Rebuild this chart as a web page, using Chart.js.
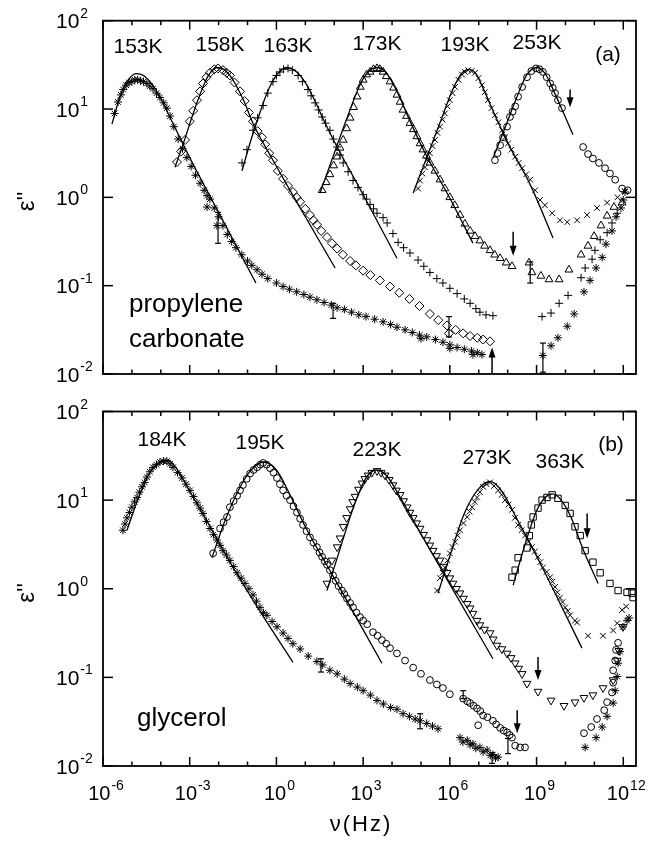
<!DOCTYPE html>
<html>
<head>
<meta charset="utf-8">
<script src="https://cdn.jsdelivr.net/npm/chart.js@4/dist/chart.umd.min.js"></script>
<style>
  body { margin: 0; background: #fff; }
  #wrap { position: relative; width: 669px; height: 841px; }
  canvas { position: absolute; left: 0; }
</style>
</head>
<body>
<div id="wrap">
  <canvas id="panelA" width="669" height="390" style="top:0"></canvas>
  <canvas id="panelB" width="669" height="451" style="top:390px"></canvas>
</div>
<script>
// all points are [log10(nu / Hz), log10(eps'')]
const decadesX = [-6,-5,-4,-3,-2,-1,0,1,2,3,4,5,6,7,8,9,10,11,12];
const labeledX = [-6,-3,0,3,6,9,12];
const decadesY = [-2,-1,0,1,2];

// ---- (a) propylene carbonate ----
const pc153 = [[-5.6,0.95],[-5.48,1.08],[-5.38,1.16],[-5.3,1.22],[-5.2,1.27],[-5.1,1.3],[-5.0,1.31],[-4.9,1.33],[-4.8,1.33],[-4.7,1.32],[-4.6,1.31],[-4.48,1.29],[-4.38,1.26],[-4.27,1.23],[-4.15,1.18],[-4.03,1.13],[-3.9,1.07],[-3.79,1.01],[-3.68,0.92],[-3.55,0.8],[-3.4,0.66],[-3.25,0.55],[-3.1,0.45],[-2.95,0.35],[-2.8,0.25],[-2.64,0.16],[-2.5,0.08],[-2.4,0.02],[-2.3,-0.02],[-2.15,-0.12],[-2.0,-0.22],[-1.85,-0.32],[-1.7,-0.42],[-1.55,-0.5],[-1.4,-0.57],[-1.2,-0.65],[-1.0,-0.72],[-0.85,-0.77],[-0.67,-0.82],[-0.5,-0.87],[-0.3,-0.92],[0.0,-0.97],[0.23,-1.01],[0.45,-1.04],[0.7,-1.07],[0.95,-1.1],[1.16,-1.13],[1.4,-1.16],[1.65,-1.19],[1.9,-1.22],[2.1,-1.25],[2.35,-1.27],[2.6,-1.3],[2.85,-1.33],[3.1,-1.35],[3.4,-1.38],[3.69,-1.41],[3.95,-1.44],[4.17,-1.47],[4.45,-1.5],[4.7,-1.53],[4.95,-1.56],[5.0,-1.6],[5.2,-1.58],[5.5,-1.61],[5.76,-1.64],[6.0,-1.67],[6.0,-1.71],[6.25,-1.7],[6.5,-1.72],[6.75,-1.74],[6.8,-1.78],[6.95,-1.76],[7.11,-1.78],[-2.4,-0.11],[-2.06,-0.32],
  [9.22,-1.79],[9.5,-1.68],[9.74,-1.59],[10.06,-1.46],[10.3,-1.32],[10.64,-1.07],[10.85,-0.94],[11.06,-0.8],[11.27,-0.68],[11.4,-0.53],[11.61,-0.38],[11.75,-0.22],[11.92,-0.12],[12.0,-0.03],[12.06,0.06]];
const pc153Fit = [[-5.69,0.83],[-5.4,1.15],[-5.1,1.34],[-4.85,1.4],[-4.6,1.38],[-4.3,1.28],[-4.0,1.12],[-3.6,0.85],[-3.0,0.45],[-2.0,-0.17],[-0.71,-0.97]];

const pc158 = [[-3.44,0.4],[-3.3,0.52],[-3.16,0.65],[-3.0,0.86],[-2.88,0.98],[-2.75,1.1],[-2.64,1.2],[-2.54,1.29],[-2.42,1.36],[-2.3,1.41],[-2.15,1.45],[-2.02,1.46],[-1.85,1.44],[-1.72,1.41],[-1.61,1.38],[-1.45,1.3],[-1.26,1.2],[-1.1,1.09],[-0.95,0.96],[-0.81,0.86],[-0.65,0.75],[-0.5,0.68],[-0.39,0.6],[-0.25,0.5],[-0.12,0.42],[0.05,0.3],[0.23,0.21],[0.4,0.13],[0.57,0.06],[0.7,0.0],[0.82,-0.05],[1.0,-0.13],[1.16,-0.2],[1.28,-0.26],[1.4,-0.31],[1.55,-0.38],[1.75,-0.45],[1.92,-0.52],[2.1,-0.58],[2.3,-0.65],[2.55,-0.72],[2.75,-0.77],[3.0,-0.83],[3.25,-0.88],[3.58,-0.94],[3.93,-1.01],[4.25,-1.08],[4.6,-1.15],[4.95,-1.23],[5.31,-1.32],[5.6,-1.39],[5.9,-1.45],[5.97,-1.54],[6.2,-1.5],[6.46,-1.54],[6.7,-1.57],[6.95,-1.59],[7.15,-1.61],[7.39,-1.63]];
const pc158Fit = [[-3.51,0.34],[-3.2,0.63],[-2.9,0.93],[-2.6,1.2],[-2.35,1.38],[-2.05,1.47],[-1.75,1.43],[-1.45,1.3],[-1.1,1.07],[-0.8,0.83],[-0.12,0.42],[1.0,-0.22],[2.03,-0.8]];

const pc163 = [[-1.19,0.39],[-1.02,0.54],[-0.81,0.76],[-0.65,0.9],[-0.46,1.04],[-0.3,1.18],[-0.12,1.31],[0.0,1.38],[0.12,1.42],[0.25,1.45],[0.4,1.46],[0.55,1.44],[0.75,1.38],[0.9,1.31],[1.09,1.22],[1.2,1.15],[1.34,1.07],[1.46,0.99],[1.58,0.91],[1.7,0.84],[1.85,0.76],[1.97,0.66],[2.1,0.57],[2.2,0.48],[2.31,0.39],[2.48,0.29],[2.65,0.19],[2.82,0.11],[3.0,0.03],[3.12,-0.02],[3.24,-0.08],[3.36,-0.13],[3.48,-0.18],[3.69,-0.23],[3.83,-0.29],[4.03,-0.41],[4.21,-0.51],[4.4,-0.57],[4.62,-0.63],[4.9,-0.71],[5.1,-0.78],[5.31,-0.85],[5.55,-0.92],[5.76,-0.97],[6.0,-1.03],[6.25,-1.09],[6.5,-1.15],[6.7,-1.2],[6.9,-1.26],[7.04,-1.3],[7.25,-1.33],[7.49,-1.34],
  [9.19,-1.35],[9.5,-1.31],[9.78,-1.2],[10.09,-1.11],[10.54,-0.91],[10.68,-0.8],[10.92,-0.7],[11.02,-0.6],[11.2,-0.48],[11.44,-0.4],[11.61,-0.29],[11.79,-0.18]];
const pc163Fit = [[-1.19,0.3],[-0.9,0.63],[-0.6,0.93],[-0.3,1.2],[0.0,1.38],[0.35,1.47],[0.7,1.42],[1.0,1.3],[1.35,1.08],[1.7,0.83],[2.1,0.57],[3.0,0.03],[4.17,-0.69]];

const pc173 = [[1.58,0.08],[1.72,0.17],[1.85,0.26],[1.98,0.36],[2.1,0.46],[2.2,0.56],[2.31,0.65],[2.43,0.78],[2.55,0.9],[2.67,1.02],[2.79,1.14],[2.9,1.25],[3.0,1.33],[3.12,1.39],[3.24,1.42],[3.36,1.45],[3.48,1.46],[3.58,1.45],[3.69,1.42],[3.8,1.37],[3.93,1.31],[4.05,1.24],[4.17,1.16],[4.28,1.08],[4.38,0.99],[4.5,0.92],[4.62,0.84],[4.74,0.77],[4.86,0.69],[4.97,0.61],[5.07,0.54],[5.19,0.47],[5.31,0.39],[5.48,0.3],[5.66,0.2],[5.83,0.1],[6.0,0.0],[6.17,-0.09],[6.35,-0.2],[6.52,-0.3],[6.7,-0.38],[6.87,-0.44],[7.04,-0.49],[7.2,-0.55],[7.39,-0.6],[7.55,-0.65],[7.74,-0.69],[7.95,-0.74],[8.15,-0.78],
  [8.74,-0.74],[8.84,-0.85],[9.15,-0.89],[9.43,-0.93],[9.78,-0.93],[10.12,-0.82],[10.54,-0.65],[10.78,-0.55],[10.99,-0.44],[11.23,-0.32],[11.44,-0.21],[11.68,-0.11],[11.96,-0.06]];
const pc173Fit = [[1.51,0.05],[2.0,0.5],[2.5,0.95],[2.9,1.28],[3.2,1.43],[3.5,1.47],[3.8,1.41],[4.2,1.18],[4.6,0.88],[5.1,0.53],[6.0,-0.01],[6.8,-0.52]];

const pc193 = [[4.9,0.1],[4.97,0.19],[5.05,0.27],[5.14,0.34],[5.22,0.42],[5.31,0.5],[5.4,0.58],[5.49,0.65],[5.57,0.73],[5.66,0.8],[5.75,0.88],[5.83,0.95],[5.92,1.03],[6.0,1.1],[6.09,1.18],[6.18,1.25],[6.3,1.33],[6.42,1.39],[6.52,1.42],[6.63,1.44],[6.75,1.43],[6.87,1.41],[6.99,1.35],[7.11,1.27],[7.21,1.19],[7.32,1.1],[7.44,1.01],[7.56,0.93],[7.68,0.85],[7.81,0.76],[7.91,0.68],[8.01,0.61],[8.13,0.54],[8.26,0.46],[8.38,0.39],[8.5,0.33],[8.64,0.26],[8.78,0.2],[8.95,0.08],[9.12,-0.03],[9.29,-0.09],[9.54,-0.18],[9.81,-0.26],[10.06,-0.28],[10.4,-0.26],[10.75,-0.2],[11.09,-0.12],[11.44,-0.06],[11.8,0.0],[12.05,0.07]];
const pc193Fit = [[4.73,0.05],[5.2,0.45],[5.7,0.88],[6.1,1.22],[6.4,1.4],[6.65,1.45],[6.9,1.4],[7.2,1.2],[7.6,0.9],[8.0,0.62],[8.8,0.13],[9.57,-0.46]];

const pc253 = [[7.56,0.42],[7.65,0.5],[7.74,0.59],[7.84,0.68],[7.98,0.8],[8.08,0.91],[8.17,0.97],[8.26,1.03],[8.36,1.14],[8.5,1.25],[8.67,1.36],[8.82,1.43],[8.98,1.46],[9.1,1.45],[9.22,1.42],[9.35,1.36],[9.47,1.29],[9.56,1.24],[9.64,1.18],[9.74,1.1],[9.88,1.01],[10.61,0.57],[10.78,0.49],[10.95,0.44],[11.16,0.39],[11.37,0.33],[11.54,0.27],[11.72,0.2],[11.96,0.1],[12.15,0.08]];
const pc253Fit = [[7.5,0.45],[7.9,0.78],[8.3,1.12],[8.65,1.38],[9.0,1.47],[9.3,1.4],[9.6,1.2],[9.9,0.98],[10.26,0.71]];

// ---- (b) glycerol ----
const gl184 = [[-5.31,0.66],[-5.24,0.73],[-5.17,0.8],[-5.08,0.86],[-5.0,0.92],[-4.91,0.98],[-4.82,1.03],[-4.74,1.09],[-4.65,1.15],[-4.56,1.2],[-4.48,1.26],[-4.38,1.32],[-4.27,1.37],[-4.15,1.4],[-4.03,1.43],[-3.91,1.44],[-3.79,1.44],[-3.68,1.41],[-3.58,1.37],[-3.42,1.31],[-3.27,1.25],[-3.13,1.18],[-2.99,1.11],[-2.87,1.04],[-2.75,0.97],[-2.64,0.91],[-2.54,0.85],[-2.42,0.76],[-2.3,0.68],[-2.18,0.61],[-2.06,0.55],[-1.95,0.49],[-1.85,0.43],[-1.73,0.38],[-1.61,0.32],[-1.48,0.25],[-1.36,0.18],[-1.22,0.12],[-1.09,0.06],[-0.95,0.0],[-0.81,-0.07],[-0.69,-0.14],[-0.57,-0.21],[-0.45,-0.27],[-0.33,-0.3],[-0.15,-0.37],[0.02,-0.43],[0.23,-0.5],[0.4,-0.56],[0.57,-0.62],[0.82,-0.68],[1.1,-0.76],[1.4,-0.82],[1.6,-0.86],[1.85,-0.92],[2.1,-0.96],[2.35,-1.02],[2.55,-1.07],[2.8,-1.11],[3.0,-1.15],[3.25,-1.2],[3.48,-1.26],[3.7,-1.3],[3.95,-1.34],[4.17,-1.36],[4.38,-1.41],[4.6,-1.44],[4.8,-1.47],[4.97,-1.49],[5.2,-1.52],[5.4,-1.55],[5.59,-1.58],
  [6.35,-1.68],[6.45,-1.73],[6.6,-1.71],[6.7,-1.76],[6.8,-1.75],[6.9,-1.8],[7.04,-1.79],[7.15,-1.84],[7.29,-1.82],[7.4,-1.88],[7.49,-1.87],[7.58,-1.91],[7.67,-1.9],
  [10.68,-1.79],[11.06,-1.68],[11.27,-1.56],[11.44,-1.44],[11.65,-1.29],[11.72,-1.15],[11.79,-0.99],[11.82,-0.84],[11.89,-0.71],[11.99,-0.43],[12.13,-0.36],[12.2,-0.33]];
const gl184Fit = [[-5.17,0.66],[-4.8,1.0],[-4.4,1.3],[-4.0,1.43],[-3.75,1.45],[-3.4,1.33],[-3.0,1.1],[-2.5,0.82],[-1.5,0.24],[-0.5,-0.29],[0.57,-0.83]];

const gl195 = [[-2.19,0.4],[-1.95,0.68],[-1.83,0.75],[-1.71,0.81],[-1.61,0.92],[-1.48,0.99],[-1.36,1.05],[-1.26,1.11],[-1.16,1.17],[-1.03,1.24],[-0.91,1.3],[-0.79,1.34],[-0.67,1.37],[-0.56,1.4],[-0.46,1.42],[-0.34,1.4],[-0.22,1.36],[-0.1,1.31],[0.02,1.25],[0.12,1.18],[0.23,1.11],[0.35,1.05],[0.47,1.0],[0.59,0.93],[0.71,0.86],[0.82,0.79],[0.92,0.72],[1.04,0.65],[1.16,0.58],[1.28,0.52],[1.4,0.47],[1.49,0.41],[1.58,0.36],[1.67,0.31],[1.75,0.27],[1.85,0.21],[1.96,0.15],[2.05,0.09],[2.15,0.03],[2.27,-0.02],[2.35,-0.06],[2.44,-0.11],[2.55,-0.16],[2.65,-0.21],[2.77,-0.27],[2.89,-0.32],[3.0,-0.36],[3.14,-0.4],[3.34,-0.49],[3.5,-0.53],[3.65,-0.58],[3.8,-0.62],[3.93,-0.67],[4.17,-0.73],[4.45,-0.81],[4.73,-0.89],[5.0,-0.96],[5.31,-1.03],[5.55,-1.08],[5.76,-1.12],[6.0,-1.19],
  [6.46,-1.24],[6.6,-1.27],[6.7,-1.29],[6.82,-1.32],[6.94,-1.35],[6.98,-1.54],[7.05,-1.38],[7.15,-1.43],[7.3,-1.45],[7.49,-1.49],[7.6,-1.53],[7.74,-1.57],[7.86,-1.6],[7.98,-1.62],[8.07,-1.65],[8.15,-1.68],[8.26,-1.77],[8.43,-1.79],[8.6,-1.79],
  [10.64,-1.63],[10.89,-1.56],[11.09,-1.47],[11.34,-1.37],[11.44,-1.28],[11.61,-1.17],[11.65,-1.06],[11.65,-0.92],[11.72,-0.81],[11.75,-0.69],[11.82,-0.61]];
const gl195Fit = [[-2.23,0.35],[-1.8,0.75],[-1.3,1.12],[-0.9,1.33],[-0.45,1.43],[0.0,1.34],[0.5,1.04],[1.0,0.7],[2.0,0.12],[3.65,-0.84]];

const gl223 = [[1.75,0.06],[1.92,0.32],[2.1,0.47],[2.2,0.57],[2.31,0.7],[2.43,0.8],[2.55,0.9],[2.64,0.98],[2.72,1.04],[2.84,1.12],[2.96,1.19],[3.06,1.24],[3.17,1.28],[3.3,1.31],[3.48,1.33],[3.62,1.31],[3.76,1.28],[3.9,1.23],[4.03,1.17],[4.15,1.11],[4.28,1.06],[4.4,0.99],[4.52,0.92],[4.62,0.86],[4.73,0.8],[4.85,0.74],[4.97,0.68],[5.09,0.61],[5.21,0.55],[5.31,0.49],[5.42,0.43],[5.54,0.37],[5.66,0.32],[5.78,0.25],[5.9,0.18],[6.0,0.12],[6.11,0.06],[6.23,0.0],[6.35,-0.05],[6.47,-0.11],[6.6,-0.17],[6.7,-0.22],[6.8,-0.28],[6.94,-0.36],[7.04,-0.41],[7.2,-0.46],[7.39,-0.5],[7.5,-0.57],[7.63,-0.64],[7.8,-0.68],[7.98,-0.73],[8.12,-0.78],[8.26,-0.84],[8.38,-0.9],[8.5,-0.96],[8.67,-1.07],
  [9.05,-1.16],[9.5,-1.26],[9.95,-1.32],[10.33,-1.28],[10.64,-1.23],[10.95,-1.2],[11.3,-1.12],[11.65,-1.03],[11.79,-0.81],[11.85,-0.7],[11.99,-0.43]];
const gl223Fit = [[1.75,-0.02],[2.2,0.45],[2.7,0.95],[3.1,1.25],[3.45,1.34],[3.8,1.28],[4.3,1.02],[5.0,0.62],[6.0,0.05],[7.49,-0.79]];

const gl273 = [[5.56,-0.02],[5.66,0.12],[5.75,0.18],[5.83,0.24],[5.92,0.32],[6.0,0.4],[6.09,0.47],[6.18,0.53],[6.27,0.6],[6.35,0.66],[6.47,0.74],[6.6,0.81],[6.68,0.87],[6.77,0.92],[6.86,0.98],[6.94,1.03],[7.04,1.09],[7.15,1.15],[7.27,1.18],[7.39,1.2],[7.53,1.16],[7.67,1.11],[7.79,1.06],[7.91,1.0],[8.03,0.95],[8.15,0.89],[8.25,0.8],[8.36,0.72],[8.48,0.66],[8.6,0.6],[8.72,0.53],[8.84,0.47],[8.94,0.42],[9.05,0.36],[9.13,0.3],[9.22,0.24],[9.35,0.19],[9.47,0.13],[9.55,0.08],[9.64,0.02],[9.72,-0.04],[9.81,-0.1],[9.9,-0.15],[9.99,-0.21],[10.08,-0.25],[10.16,-0.3],[10.33,-0.36],[10.4,-0.38],[10.78,-0.53],[11.3,-0.53],[11.65,-0.47],[11.79,-0.39],[11.96,-0.24],[12.1,-0.2]];
const gl273Fit = [[5.59,-0.05],[6.0,0.37],[6.5,0.85],[7.0,1.13],[7.4,1.21],[7.8,1.1],[8.3,0.8],[9.0,0.37],[10.57,-0.67]];

const gl363 = [[8.15,0.13],[8.26,0.21],[8.36,0.35],[8.67,0.46],[8.75,0.6],[8.82,0.72],[8.88,0.81],[9.05,0.91],[9.19,1.0],[9.36,1.03],[9.54,1.06],[9.74,1.02],[9.99,0.94],[10.16,0.85],[10.33,0.7],[10.51,0.6],[10.68,0.43],[10.95,0.3],[11.2,0.18],[11.54,0.06],[11.82,-0.02],[12.13,-0.04],[12.3,-0.05],[12.34,-0.1]];
const gl363Fit = [[8.19,0.04],[8.6,0.5],[9.0,0.88],[9.3,1.03],[9.55,1.07],[9.85,1.0],[10.2,0.8],[10.6,0.45],[11.13,0.06]];

// error bars [log nu, log low, log high], arrows [log nu, log from, log to]
const errBarsA = [[-2.02,-0.52,-0.17],[1.96,-1.37,-1.2],[5.97,-1.58,-1.35],[8.78,-0.97,-0.73],[9.22,-1.98,-1.65]];
const arrowsA = [[10.16,1.22,1.02],[8.19,-0.39,-0.66],[7.46,-1.99,-1.7]];
const errBarsB = [[1.54,-0.94,-0.79],[4.97,-1.58,-1.41],[6.46,-1.24,-1.15],[7.46,-1.97,-1.85],[8.01,-1.86,-1.69]];
const arrowsB = [[10.75,0.85,0.57],[9.05,-0.77,-1.03],[8.33,-1.37,-1.63]];

const tempsA = ['153K','158K','163K','173K','193K','253K'];
const tempsB = ['184K','195K','223K','273K','363K'];

const FONT = '"Liberation Sans", Arial, sans-serif';
const toPts = arr => arr.map(p => ({ x: 10 ** p[0], y: 10 ** p[1] }));

function marks(data, style, r, rot) {
  return { type: 'scatter', data: toPts(data), pointStyle: style, pointRadius: r, pointRotation: rot || 0,
    borderColor: '#000', backgroundColor: 'rgba(0,0,0,0)', pointBorderWidth: 1, showLine: false };
}
function fit(data) {
  return { type: 'line', data: toPts(data), borderColor: '#000', borderWidth: 1.3, pointRadius: 0,
    cubicInterpolationMode: 'monotone', fill: false };
}

function makeFrame(cfg) {
  return {
    id: 'frame',
    afterDatasetsDraw(chart) {
      const ctx = chart.ctx, a = chart.chartArea, xs = chart.scales.x, ys = chart.scales.y;
      const px = v => xs.getPixelForValue(10 ** v), py = v => ys.getPixelForValue(10 ** v);
      ctx.save();
      ctx.strokeStyle = '#000'; ctx.fillStyle = '#000';
      const seg = (x0, y0, x1, y1) => { ctx.beginPath(); ctx.moveTo(x0, y0); ctx.lineTo(x1, y1); ctx.stroke(); };

      // error bars
      ctx.lineWidth = 1.2;
      cfg.errBars.forEach(e => {
        const x = px(e[0]), y0 = py(e[1]), y1 = py(e[2]);
        seg(x, y0, x, y1); seg(x - 3, y0, x + 3, y0); seg(x - 3, y1, x + 3, y1);
      });
      // arrows
      cfg.arrows.forEach(e => {
        const x = px(e[0]), y0 = py(e[1]), y1 = py(e[2]);
        const dir = y1 > y0 ? 1 : -1;
        ctx.lineWidth = 1.5;
        seg(x, y0, x, y1 - dir * 8);
        ctx.beginPath(); ctx.moveTo(x, y1); ctx.lineTo(x - 3.5, y1 - dir * 10); ctx.lineTo(x + 3.5, y1 - dir * 10); ctx.closePath(); ctx.fill();
      });

      // frame and inward ticks
      ctx.lineWidth = 1.8;
      ctx.strokeRect(a.left, a.top, a.right - a.left, a.bottom - a.top);
      ctx.lineWidth = 1.5;
      decadesX.forEach(d => {
        const x = px(d), len = labeledX.includes(d) ? 9 : 4.5;
        seg(x, a.bottom, x, a.bottom - len); seg(x, a.top, x, a.top + len);
      });
      decadesY.forEach(d => {
        const y = py(d);
        seg(a.left, y, a.left + 10, y); seg(a.right, y, a.right - 10, y);
      });

      // y tick labels 10^n
      decadesY.forEach(d => {
        const y = py(d);
        ctx.font = '21px ' + FONT; ctx.textAlign = 'left'; ctx.textBaseline = 'alphabetic';
        ctx.fillText('10', 56, y + 7.5);
        const w = ctx.measureText('10').width;
        ctx.font = '14px ' + FONT;
        ctx.fillText(String(d), 56 + w + 1, y - 3);
      });
      // x tick labels
      if (cfg.xLabels) {
        labeledX.forEach(d => {
          const x = px(d);
          ctx.font = '20px ' + FONT; const w1 = ctx.measureText('10').width;
          ctx.font = '14px ' + FONT; const w2 = ctx.measureText(String(d)).width;
          const left = x + 3 - (w1 + w2 + 1) / 2;
          ctx.textAlign = 'left';
          ctx.font = '20px ' + FONT; ctx.fillText('10', left, a.bottom + 34);
          ctx.font = '14px ' + FONT; ctx.fillText(String(d), left + w1 + 1, a.bottom + 24);
        });
        ctx.font = '22px ' + FONT; ctx.textAlign = 'center';
        ctx.letterSpacing = '2px';
        ctx.fillText('\u03BD(Hz)', 361, cfg.xTitleY);
        ctx.letterSpacing = '0px';
      }

      // y title
      ctx.save();
      ctx.translate(27, (a.top + a.bottom) / 2 + 4);
      ctx.rotate(-Math.PI / 2);
      ctx.font = '24px ' + FONT; ctx.textAlign = 'center'; ctx.textBaseline = 'middle';
      ctx.fillText("\u03B5''", 0, 0);
      ctx.restore();

      // temperature labels and annotations
      ctx.font = '21px ' + FONT; ctx.textAlign = 'center'; ctx.textBaseline = 'middle';
      cfg.temps.forEach((t, i) => ctx.fillText(t, cfg.tempPos[i][0], cfg.tempPos[i][1]));
      ctx.fillText(cfg.tag, cfg.tagPos[0], cfg.tagPos[1]);
      ctx.font = '26px ' + FONT; ctx.textAlign = 'left'; ctx.textBaseline = 'alphabetic';
      cfg.names.forEach((n, i) => ctx.fillText(n, cfg.namePos[i][0], cfg.namePos[i][1]));
      ctx.restore();
    }
  };
}

function makeChart(id, datasets, pad, cfg) {
  return new Chart(document.getElementById(id), {
    data: { datasets },
    options: {
      responsive: false, animation: false, events: [],
      layout: { padding: pad },
      plugins: { legend: { display: false }, tooltip: { enabled: false } },
      scales: {
        x: { type: 'logarithmic', min: 1e-6, max: 10 ** 12.44, display: false },
        y: { type: 'logarithmic', min: 0.01, max: 100, display: false }
      }
    },
    plugins: [makeFrame(cfg)]
  });
}

makeChart('panelA', [
  fit(pc153Fit), fit(pc158Fit), fit(pc163Fit), fit(pc173Fit), fit(pc193Fit), fit(pc253Fit),
  marks(pc153, 'star', 4), marks(pc158, 'rectRot', 4.5), marks(pc163, 'cross', 4),
  marks(pc173, 'triangle', 4.5), marks(pc193, 'crossRot', 4), marks(pc253, 'circle', 3.4)
], { left: 103, right: 33, top: 20.7, bottom: 16 }, {
  errBars: errBarsA, arrows: arrowsA, xLabels: false,
  temps: tempsA, tempPos: [[138,47],[220,45],[288,46],[377,44],[465,45],[537,43]],
  tag: '(a)', tagPos: [608,55],
  names: ['propylene', 'carbonate'], namePos: [[129,312],[129,347]]
});

makeChart('panelB', [
  fit(gl184Fit), fit(gl195Fit), fit(gl223Fit), fit(gl273Fit), fit(gl363Fit),
  marks(gl184, 'star', 4), marks(gl195, 'circle', 3.4), marks(gl223, 'triangle', 4.5, 180),
  marks(gl273, 'crossRot', 4), marks(gl363, 'rect', 4.5)
], { left: 103, right: 33, top: 21.5, bottom: 75 }, {
  errBars: errBarsB, arrows: arrowsB, xLabels: true, xTitleY: 831 - 390,
  temps: tempsB, tempPos: [[162,50],[260,53],[377,60],[487,68],[560,72]],
  tag: '(b)', tagPos: [611,55],
  names: ['glycerol'], namePos: [[137,336]]
});
</script>
</body>
</html>
